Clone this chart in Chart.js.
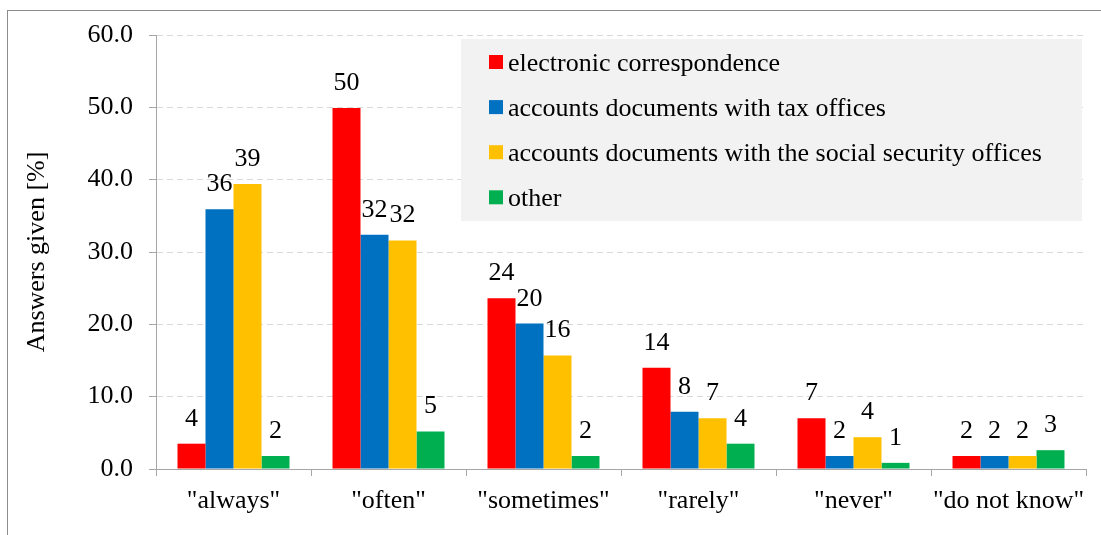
<!DOCTYPE html>
<html>
<head>
<meta charset="utf-8">
<script src="https://cdn.jsdelivr.net/npm/chart.js@4"></script>
<style>
  html, body { margin: 0; padding: 0; background: #fff; overflow: hidden; }
  #wrap { position: relative; width: 1101px; height: 535px; }
  #frame { position: absolute; left: 7px; top: 10px; width: 1200px; height: 600px;
           border-left: 1px solid #8c8c8c; border-top: 1px solid #8c8c8c; pointer-events: none; }
  canvas { position: absolute; left: 0; top: 0; }
</style>
</head>
<body>
<div id="wrap">
  <canvas id="chart" width="1101" height="535"></canvas>
  <div id="frame"></div>
</div>
<script>
const categories = ['"always"', '"often"', '"sometimes"', '"rarely"', '"never"', '"do not know"'];
const seriesNames = [
    'electronic correspondence',
    'accounts documents with tax offices',
    'accounts documents with the social security offices',
    'other'
];
const electronic = [3.5, 49.9, 23.6, 14.0, 7.0, 1.8];
const taxOffices = [35.9, 32.4, 20.1, 7.9, 1.8, 1.8];
const socialSecurity = [39.4, 31.6, 15.7, 7.0, 4.4, 1.8];
const other = [1.8, 5.2, 1.8, 3.5, 0.85, 2.6];
const barColors = ['#ff0000', '#0070c0', '#ffc000', '#00b050'];

const FONT = "'Liberation Serif', 'Times New Roman', serif";
const AXIS_GREY = '#a6a6a6';

// value labels above each bar (rounded like the original)
const valueLabels = {
    id: 'valueLabels',
    afterDatasetsDraw(chart) {
        const ctx = chart.ctx;
        ctx.save();
        ctx.font = '26px ' + FONT;
        ctx.fillStyle = '#000';
        ctx.textAlign = 'center';
        ctx.textBaseline = 'alphabetic';
        chart.data.datasets.forEach((ds, i) => {
            chart.getDatasetMeta(i).data.forEach((bar, j) => {
                ctx.fillText(String(Math.round(ds.data[j])), bar.x, bar.y - 18);
            });
        });
        ctx.restore();
    }
};

// grey legend box inside the plot
const boxLegend = {
    id: 'boxLegend',
    afterDatasetsDraw(chart) {
        const ctx = chart.ctx;
        ctx.save();
        ctx.fillStyle = '#f2f2f2';
        ctx.fillRect(461, 39, 621, 182);
        ctx.font = '26px ' + FONT;
        ctx.textAlign = 'left';
        ctx.textBaseline = 'alphabetic';
        chart.data.datasets.forEach((ds, i) => {
            const base = 71 + i * 45.1;
            ctx.fillStyle = ds.backgroundColor;
            ctx.fillRect(489, base - 16, 14, 14);
            ctx.fillStyle = '#000';
            ctx.fillText(ds.label, 508, base);
        });
        ctx.restore();
    }
};

const seriesData = [electronic, taxOffices, socialSecurity, other];

new Chart(document.getElementById('chart'), {
    type: 'bar',
    data: {
        labels: categories,
        datasets: seriesData.map((d, i) => ({
            label: seriesNames[i],
            data: d,
            backgroundColor: barColors[i],
            borderWidth: 0,
            categoryPercentage: 0.7226,
            barPercentage: 1
        }))
    },
    options: {
        responsive: false,
        animation: false,
        devicePixelRatio: 1,
        layout: { padding: { left: 0, top: 35, right: 15, bottom: 0 } },
        plugins: {
            legend: { display: false },
            tooltip: { enabled: false }
        },
        scales: {
            x: {
                afterFit: (s) => { s.height = 66; },
                grid: {
                    drawOnChartArea: false,
                    color: AXIS_GREY,
                    tickColor: AXIS_GREY,
                    tickLength: 7,
                    offset: true
                },
                border: { color: AXIS_GREY, width: 1 },
                ticks: {
                    color: '#000',
                    font: { family: FONT, size: 26 },
                    padding: 10,
                    maxRotation: 0,
                    autoSkip: false
                }
            },
            y: {
                min: 0,
                max: 60,
                afterFit: (s) => { s.width = 156; },
                grid: {
                    color: '#d9d9d9',
                    tickColor: AXIS_GREY,
                    tickBorderDash: [],
                    tickLength: 7
                },
                border: { color: AXIS_GREY, width: 1, dash: [6, 4] },
                ticks: {
                    stepSize: 10,
                    color: '#000',
                    font: { family: FONT, size: 26 },
                    padding: 16,
                    callback: (v) => v.toFixed(1)
                },
                title: {
                    display: true,
                    text: 'Answers given [%]',
                    color: '#000',
                    font: { family: FONT, size: 26 },
                    padding: { top: 22, bottom: 0 }
                }
            }
        }
    },
    plugins: [valueLabels, boxLegend]
});
</script>
</body>
</html>
